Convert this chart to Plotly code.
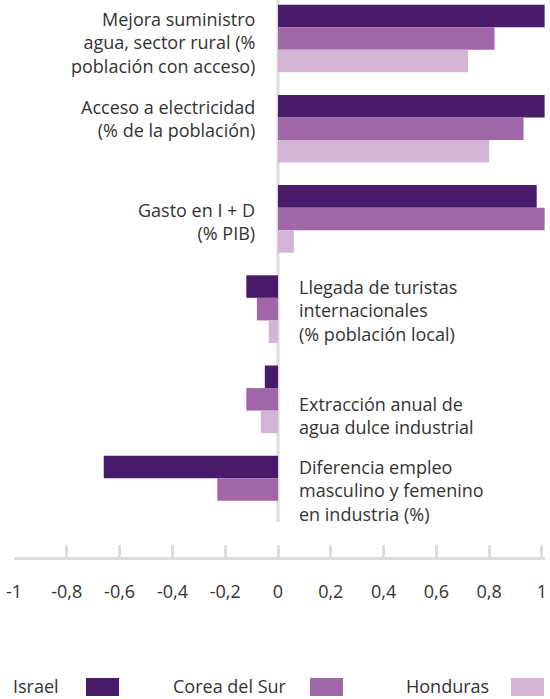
import plotly.graph_objects as go

# Indicators (one group of bars each), top to bottom
categories = [
    "Mejora suministro<br>agua, sector rural (%<br>población con acceso)",
    "Acceso a electricidad<br>(% de la población)",
    "Gasto en I + D<br>(% PIB)",
    "Llegada de turistas<br>internacionales<br>(% población local)",
    "Extracción anual de<br>agua dulce industrial",
    "Diferencia empleo<br>masculino y femenino<br>en industria (%)",
]

series_names = ["Israel", "Corea del Sur", "Honduras"]
israel = [1.01, 1.01, 0.98, -0.12, -0.05, -0.66]
corea = [0.82, 0.93, 1.01, -0.08, -0.12, -0.23]
honduras = [0.72, 0.80, 0.06, -0.035, -0.065, None]
series_values = [israel, corea, honduras]
series_colors = ["#481b6b", "#a066a8", "#d4b4d4"]

tick_values = [-1, -0.8, -0.6, -0.4, -0.2, 0, 0.2, 0.4, 0.6, 0.8, 1]
tick_labels = ["-1", "-0,8", "-0,6", "-0,4", "-0,2", "0", "0,2", "0,4", "0,6", "0,8", "1"]

FONT = "Open Sans"
FS = 18
TEXT = "#333333"
GRID = "#dcdcdc"

W, H = 550, 699
ML, MR, MT, MB = 14, 5, 0, 142
PW, PH = W - ML - MR, H - MT - MB


def px(xp):
    return (xp - ML) / PW


def py(yp):
    return (H - MB - yp) / PH


fig = go.Figure()
for name, vals, col in zip(series_names, series_values, series_colors):
    fig.add_trace(go.Bar(
        y=list(range(len(categories))), x=vals, name=name, orientation="h",
        marker=dict(color=col, line=dict(width=0)), showlegend=False,
    ))

# Category labels: left of the zero line for positive groups, right of it otherwise
label_shift = [-3.5, 10.7, -2.6, -0.9, -15.7, -0.5]
annotations = []
for i, cat in enumerate(categories):
    positive = (israel[i] or 0) > 0
    annotations.append(dict(
        text=cat, xref="paper", yref="y",
        x=px(257) if positive else px(297), y=i,
        xanchor="right" if positive else "left", yanchor="middle",
        align="right" if positive else "left",
        yshift=label_shift[i], showarrow=False,
        font=dict(family=FONT, size=FS, color=TEXT),
    ))

# Legend: label followed by a colour swatch
legend_text_x = [11, 171, 404]
legend_box_x = [86, 310, 511]
shapes = []
for name, col, tx, bx in zip(series_names, series_colors, legend_text_x, legend_box_x):
    annotations.append(dict(
        text=name, xref="paper", yref="paper", x=px(tx), y=py(686),
        xanchor="left", yanchor="middle", showarrow=False,
        font=dict(family=FONT, size=FS, color=TEXT),
    ))
    shapes.append(dict(
        type="rect", xref="paper", yref="paper",
        x0=px(bx), x1=px(bx + 33), y0=py(696), y1=py(678),
        fillcolor=col, line=dict(width=0),
    ))

# Zero line stopping above the axis
shapes.append(dict(
    type="line", xref="x", yref="paper", x0=0, x1=0, y0=py(522), y1=1,
    line=dict(color=GRID, width=3), layer="below",
))

fig.update_layout(
    width=W, height=H,
    margin=dict(l=ML, r=MR, t=MT, b=MB),
    paper_bgcolor="white", plot_bgcolor="white",
    barmode="group", bargap=0.25, bargroupgap=0,
    font=dict(family=FONT, size=FS, color=TEXT),
    annotations=annotations, shapes=shapes,
    xaxis=dict(
        range=[-1, 1.0114], tickvals=tick_values, ticktext=tick_labels,
        showgrid=False, zeroline=False,
        showline=True, linecolor=GRID, linewidth=3,
        ticks="inside", ticklen=12, tickwidth=2.5, tickcolor=GRID,
        ticklabelstandoff=16,
        tickfont=dict(family=FONT, size=FS, color=TEXT),
        fixedrange=True,
    ),
    yaxis=dict(
        range=[5.748, -0.427], showticklabels=False, showgrid=False,
        zeroline=False, showline=False, ticks="", fixedrange=True,
    ),
)

fig.write_html("out.html")
